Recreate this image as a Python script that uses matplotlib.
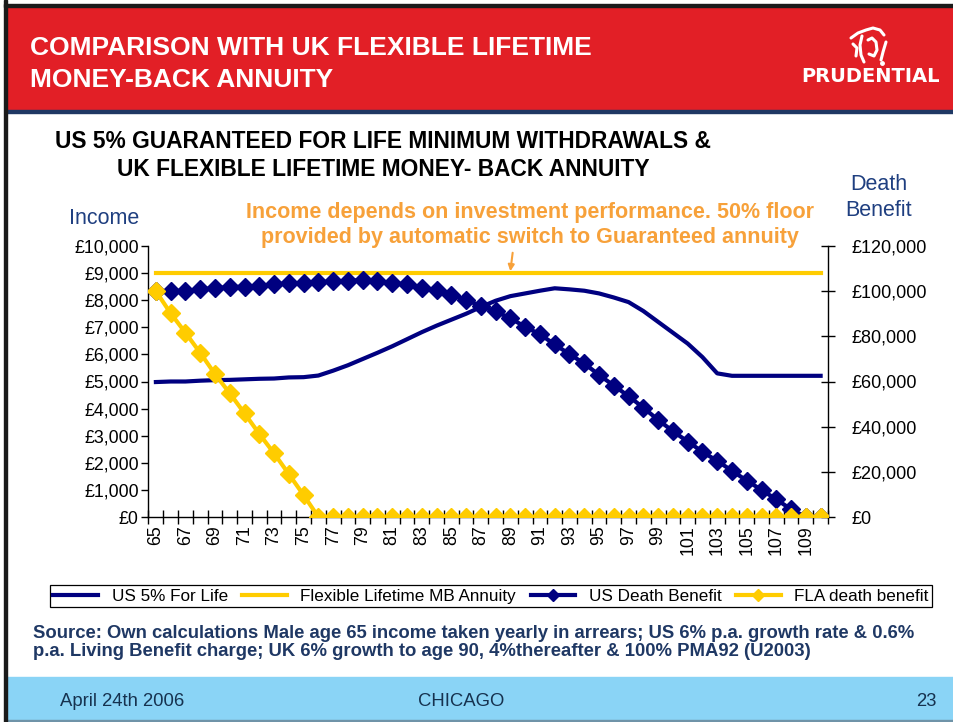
import matplotlib
matplotlib.use("Agg")
import matplotlib.pyplot as plt
from matplotlib.patches import Rectangle
from matplotlib.lines import Line2D

plt.rcParams['font.family'] = ['Liberation Sans', 'DejaVu Sans']

# ---------------- data ----------------
ages = list(range(65, 111))
tick_ages = list(range(65, 110, 2))

us_for_life = [4980, 5000, 5000, 5030, 5050, 5060, 5080, 5100, 5110, 5150,
               5160, 5220, 5400, 5600, 5830, 6060, 6300, 6560, 6820, 7060,
               7280, 7500, 7750, 7980, 8150, 8250, 8350, 8440, 8400, 8350,
               8250, 8100, 7930, 7600, 7200, 6800, 6400, 5900, 5300, 5210,
               5210, 5210, 5210, 5210, 5210, 5210]
flex_mb_annuity = [9000] * 46

us_death_benefit = [100000, 100100, 100100, 100800, 101300, 101800, 102000, 102200,
                    103100, 103400, 103400, 103900, 104300, 104600, 104900, 104300,
                    103400, 103100, 101600, 100300, 98300, 96100, 93500, 91000,
                    88000, 84200, 80900, 76400, 72100, 68000, 62900, 58200,
                    53500, 48400, 43000, 38000, 33400, 28900, 24800, 20500,
                    16100, 12000, 7800, 3400, 0, 0]
fla_death_benefit = [100000, 90200, 81600, 72700, 63300, 54800, 45900, 36800,
                     28200, 19000, 9700, 0] + [0] * 34

left_ticks = list(range(0, 10001, 1000))
left_labels = ["£0", "£1,000", "£2,000", "£3,000", "£4,000", "£5,000",
               "£6,000", "£7,000", "£8,000", "£9,000", "£10,000"]
right_ticks = list(range(0, 120001, 20000))
right_labels = ["£0", "£20,000", "£40,000", "£60,000", "£80,000", "£100,000", "£120,000"]

series_names = ["US 5% For Life", "Flexible Lifetime MB Annuity",
                "US Death Benefit", "FLA death benefit"]

# ---------------- figure ----------------
W, H = 954, 722
fig = plt.figure(figsize=(W / 100, H / 100), dpi=100)
fig.patch.set_facecolor("white")


def fx(x):
    return x / W


def fy(y):
    return 1 - y / H


# header band
fig.patches.append(Rectangle((fx(7), fy(111)), fx(954 - 7), (104) / H,
                             transform=fig.transFigure, color="#E21F26", zorder=0))
fig.patches.append(Rectangle((fx(7), fy(113)), fx(954 - 7), 2.5 / H,
                             transform=fig.transFigure, color="#1F3864", zorder=1))
# borders
fig.patches.append(Rectangle((fx(4), 0), 3 / W, 1, transform=fig.transFigure,
                             color="#1a1a1a", zorder=2))
fig.patches.append(Rectangle((fx(4), fy(7)), 1, 3 / H, transform=fig.transFigure,
                             color="#1a1a1a", zorder=2))
# footer band
fig.patches.append(Rectangle((fx(7), fy(720)), 1, 43 / H, transform=fig.transFigure,
                             color="#8AD4F6", zorder=0))
fig.patches.append(Rectangle((fx(7), 0), 1, 2.5 / H, transform=fig.transFigure,
                             color="#6F93A8", zorder=0))

# header title
fig.text(fx(30), fy(48), "COMPARISON WITH UK FLEXIBLE LIFETIME", color="white",
         fontsize=19, fontweight="bold", va="center", ha="left")
fig.text(fx(30), fy(80), "MONEY-BACK ANNUITY", color="white",
         fontsize=19, fontweight="bold", va="center", ha="left")

# logo
fig.text(fx(871), fy(77), "PRUDENTIAL", color="white", fontsize=14,
         fontweight="heavy", family="DejaVu Sans", va="center", ha="center")
logo_strokes = [
    ([851, 858, 866, 873, 880, 884], [38, 33, 30, 28, 30, 35]),
    ([862, 860, 861, 864], [36, 45, 55, 62]),
    ([868, 872, 876, 877, 874, 869], [40, 38, 42, 50, 56, 54]),
    ([886, 883, 881], [42, 52, 60]),
    ([853, 857, 856], [44, 48, 56]),
]
for xs, ys in logo_strokes:
    fig.lines.append(Line2D([fx(v) for v in xs], [fy(v) for v in ys],
                            transform=fig.transFigure, color="white", lw=2.2,
                            solid_capstyle="round"))
fig.lines.append(Line2D([fx(882)], [fy(63)], transform=fig.transFigure, color="white",
                        marker="o", markersize=2.5, lw=0))

# chart title
fig.text(fx(383), fy(141), "US 5% GUARANTEED FOR LIFE MINIMUM WITHDRAWALS &",
         color="black", fontsize=16.4, fontweight="bold", ha="center", va="center")
fig.text(fx(383), fy(170), "UK FLEXIBLE LIFETIME MONEY- BACK ANNUITY",
         color="black", fontsize=16.4, fontweight="bold", ha="center", va="center")

# axis titles
fig.text(fx(104), fy(219), "Income", color="#1F3F80", fontsize=15.5, ha="center", va="center")
fig.text(fx(879), fy(185), "Death", color="#1F3F80", fontsize=15.5, ha="center", va="center")
fig.text(fx(879), fy(211), "Benefit", color="#1F3F80", fontsize=15.5, ha="center", va="center")

# orange annotation
orange = "#F7A13A"
fig.text(fx(530), fy(212), "Income depends on investment performance. 50% floor",
         color=orange, fontsize=15.5, fontweight="bold", ha="center", va="center")
fig.text(fx(530), fy(237), "provided by automatic switch to Guaranteed annuity",
         color=orange, fontsize=15.5, fontweight="bold", ha="center", va="center")

# ---------------- axes ----------------
ax = fig.add_axes([fx(148.5), fy(517), (828 - 148.5) / W, (517 - 246) / H])
ax.set_facecolor("none")
x = list(range(len(ages)))

navy = "#000080"
yellow = "#FFCC00"

ax.plot(x, us_for_life, color=navy, lw=3, zorder=3, solid_joinstyle="round")
ax.plot(x, flex_mb_annuity, color=yellow, lw=3, zorder=4)
ax.set_xlim(-0.5, len(ages) - 0.5)
ax.set_ylim(0, 10000)

ax.set_yticks(left_ticks)
ax.set_yticklabels(left_labels)
ax.tick_params(axis="y", direction="out", length=5, width=1, pad=2, labelsize=12.8)

ax.set_xticks([ages.index(a) for a in tick_ages])
ax.set_xticklabels([str(a) for a in tick_ages], rotation=90)
ax.set_xticks([i - 0.5 for i in range(len(ages) + 1)], minor=True)
ax.tick_params(axis="x", which="major", length=0, pad=6, labelsize=12.8)
ax.tick_params(axis="x", which="minor", direction="inout", length=10, width=1)

ax.spines["top"].set_visible(False)
ax.spines["right"].set_visible(False)
for s in ["left", "bottom"]:
    ax.spines[s].set_linewidth(1)

ax2 = ax.twinx()
ax2.set_facecolor("none")
ax2.plot(x, us_death_benefit, color=navy, lw=3, marker="D", markersize=9.5,
         markeredgecolor=navy, zorder=3)
ax2.plot(x, fla_death_benefit, color=yellow, lw=3, marker="D", markersize=9.5,
         markeredgecolor=yellow, zorder=4)
ax2.set_ylim(0, 120000)
ax2.set_yticks(right_ticks)
ax2.set_yticklabels(right_labels)
ax2.tick_params(axis="y", direction="inout", length=10, width=1, pad=12, labelsize=13)
ax2.spines["top"].set_visible(False)
ax2.spines["left"].set_visible(False)
ax2.spines["bottom"].set_visible(False)
ax2.spines["right"].set_linewidth(1)

# legend
handles = [
    Line2D([], [], color=navy, lw=3),
    Line2D([], [], color=yellow, lw=3),
    Line2D([], [], color=navy, lw=3, marker="D", markersize=6, markeredgecolor=navy),
    Line2D([], [], color=yellow, lw=3, marker="D", markersize=6, markeredgecolor=yellow),
]
leg = fig.legend(handles, series_names, loc="lower left",
                 bbox_to_anchor=(fx(50), fy(607), (932 - 50) / W, 27 / H),
                 mode="expand", ncol=4, fontsize=12.3, frameon=True, fancybox=False,
                 edgecolor="black", framealpha=1, borderpad=0.2, handlelength=2.6,
                 handletextpad=0.8, columnspacing=0.1, borderaxespad=0)
leg.get_frame().set_linewidth(0.9)

# source
src_color = "#1F3864"
fig.text(fx(33), fy(634),
         "Source: Own calculations Male age 65 income taken yearly in arrears; US 6% p.a. growth rate & 0.6%",
         color=src_color, fontsize=13.3, fontweight="bold", ha="left", va="center")
fig.text(fx(33), fy(652),
         "p.a. Living Benefit charge; UK 6% growth to age 90, 4%thereafter & 100% PMA92 (U2003)",
         color=src_color, fontsize=13.3, fontweight="bold", ha="left", va="center")

# footer
foot_color = "#16324F"
fig.text(fx(60), fy(701), "April 24th 2006", color=foot_color, fontsize=13.3, ha="left", va="center")
fig.text(fx(461), fy(701), "CHICAGO", color=foot_color, fontsize=13.3, ha="center", va="center")
fig.text(fx(937), fy(701), "23", color=foot_color, fontsize=13.3, ha="right", va="center")

# arrow
ax.annotate("", xy=(fx(510), fy(274)), xytext=(fx(513), fy(250)),
            xycoords="figure fraction", textcoords="figure fraction",
            arrowprops=dict(arrowstyle="-|>", color=orange, lw=1.5, mutation_scale=9),
            annotation_clip=False)

fig.savefig("out.png", dpi=100)
